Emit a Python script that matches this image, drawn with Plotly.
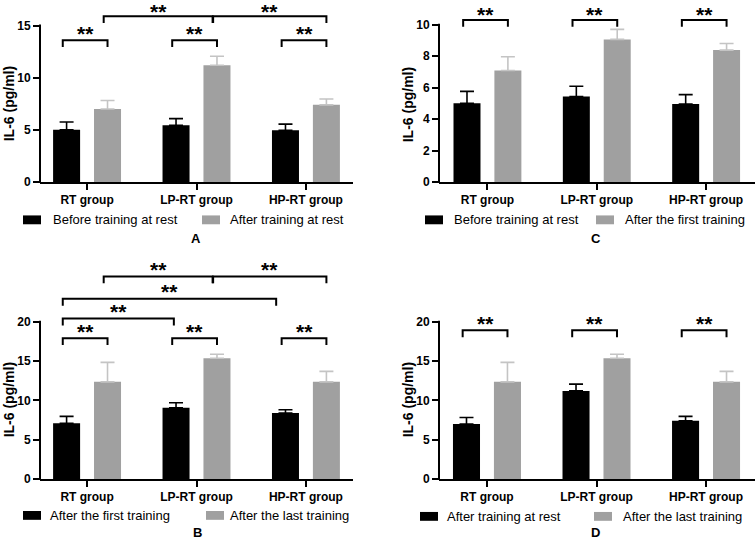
import plotly.graph_objects as go

# ---------------- data ----------------
groups = ["RT group", "LP-RT group", "HP-RT group"]

before_rest = [5.0, 5.43, 4.95]
before_rest_err = [0.76, 0.65, 0.60]
after_rest = [7.0, 11.2, 7.4]
after_rest_err = [0.82, 0.86, 0.56]
after_first = [7.08, 9.06, 8.38]
after_first_err = [0.88, 0.64, 0.42]
after_last = [12.35, 15.35, 12.35]
after_last_err = [2.47, 0.50, 1.33]

ticks_A = [0, 5, 10, 15]
ticks_B = [0, 5, 10, 15, 20]
ticks_C = [0, 2, 4, 6, 8, 10]
ticks_D = [0, 5, 10, 15, 20]

# significance comparisons: (group1, series1, group2, series2, bracket level, star label)
sig_A = [(0, 0, 0, 1, 13.6, "**"), (1, 0, 1, 1, 13.6, "**"), (2, 0, 2, 1, 13.6, "**"),
         (0, 1, 1, 1, 15.9, "**"), (1, 1, 2, 1, 15.9, "**")]
sig_B = [(0, 0, 0, 1, 17.9, "**"), (1, 0, 1, 1, 17.9, "**"), (2, 0, 2, 1, 17.9, "**"),
         (0, 0, 1, 0, 20.4, "**"), (0, 0, 2, 0, 22.9, "**"),
         (0, 1, 1, 1, 25.75, "**"), (1, 1, 2, 1, 25.75, "**")]
sig_C = [(0, 0, 0, 1, 10.3, "**"), (1, 0, 1, 1, 10.3, "**"), (2, 0, 2, 1, 10.3, "**")]
sig_D = [(0, 0, 0, 1, 18.9, "**"), (1, 0, 1, 1, 18.9, "**"), (2, 0, 2, 1, 18.9, "**")]

# ---------------- layout helpers ----------------
W, H = 756, 546
FONT = "Liberation Sans, Arial, sans-serif"
BLACK = "#000000"
GRAY = "#a0a0a0"
ERR_GRAY = "#c4c4c4"
SIDE = 0.187  # half distance between the two bars of a group (x units)


def px(x):
    return x / W


def py(y):
    return 1 - y / H


panels = [
    dict(name="A", ax="", s=[(before_rest, before_rest_err, "Before training at rest"),
                              (after_rest, after_rest_err, "After training at rest")],
         ticks=ticks_A, sig=sig_A, left=40, right=353, zero=183, ppu=10.6, ytop=17.0,
         xr=[-0.43, 2.43], leg=[(23, 52), (202, 229)], legy=221.5, lab=(196, 240.5), ttl=(9, 104)),
    dict(name="C", ax="2", s=[(before_rest, before_rest_err, "Before training at rest"),
                               (after_first, after_first_err, "After the first training")],
         ticks=ticks_C, sig=sig_C, left=439, right=755, zero=183, ppu=16.0, ytop=11.3,
         xr=[-0.443, 2.447], leg=[(425, 453), (596, 624)], legy=221.5, lab=(596, 240.5), ttl=(408, 105)),
    dict(name="B", ax="3", s=[(after_first, after_first_err, "After the first training"),
                               (after_last, after_last_err, "After the last training")],
         ticks=ticks_B, sig=sig_B, left=40, right=353, zero=485, ppu=8.0, ytop=26.5,
         xr=[-0.43, 2.43], leg=[(23, 49), (206, 229)], legy=522, lab=(197, 539), ttl=(9, 405)),
    dict(name="D", ax="4", s=[(after_rest, after_rest_err, "After training at rest"),
                               (after_last, after_last_err, "After the last training")],
         ticks=ticks_D, sig=sig_D, left=439, right=755, zero=485, ppu=8.0, ytop=20.6,
         xr=[-0.438, 2.447], leg=[(420, 446), (594, 622)], legy=523, lab=(595, 539), ttl=(408, 405)),
]

fig = go.Figure()
shapes = []
annotations = []
layout_axes = {}

for p in panels:
    xa = "x" + p["ax"]
    ya = "y" + p["ax"]
    colors = [BLACK, GRAY]
    ecolors = [BLACK, ERR_GRAY]
    for i, (vals, errs, name) in enumerate(p["s"]):
        fig.add_trace(go.Bar(
            x=list(range(len(groups))), y=vals, name=name, xaxis=xa, yaxis=ya,
            marker=dict(color=colors[i], line=dict(width=0)),
            error_y=dict(type="data", symmetric=False, array=errs, arrayminus=[0] * len(errs),
                         color=ecolors[i], thickness=1.6, width=7),
            offsetgroup=str(i), showlegend=False, hoverinfo="skip",
        ))

    y0 = py(p["zero"])
    y1 = py(p["zero"] - p["ytop"] * p["ppu"])
    xd = [px(p["left"]), px(p["right"])]
    layout_axes["xaxis" + p["ax"]] = dict(
        domain=xd, range=p["xr"], anchor=ya, tickmode="array",
        tickvals=list(range(len(groups))), ticktext=groups,
        showline=True, linecolor=BLACK, linewidth=2, ticks="outside", ticklen=6,
        tickwidth=2, tickcolor=BLACK, showgrid=False, zeroline=False,
        tickfont=dict(family=FONT, size=12, color=BLACK, weight="bold"), fixedrange=True,
    )
    layout_axes["yaxis" + p["ax"]] = dict(
        domain=[y0, y1], range=[0, p["ytop"]], anchor=xa, tickmode="array",
        tickvals=p["ticks"], ticktext=[str(t) for t in p["ticks"]],
        showline=False, ticks="outside", ticklen=6, tickwidth=2, tickcolor=BLACK,
        showgrid=False, zeroline=False,
        tickfont=dict(family=FONT, size=12, color=BLACK, weight="bold"), fixedrange=True,
    )
    # y axis line up to the top tick only
    top_px = p["zero"] - p["ticks"][-1] * p["ppu"]
    shapes.append(dict(type="line", xref="paper", yref="paper",
                       x0=xd[0], x1=xd[0], y0=py(p["zero"] + 1), y1=py(top_px - 1),
                       line=dict(color=BLACK, width=2)))

    # significance brackets
    leg_len = 7.0 / p["ppu"]
    for k, (g1, s1, g2, s2, lvl, lab) in enumerate(p["sig"]):
        xl = g1 + (SIDE if s1 else -SIDE) - 0.035
        xr_ = g2 + (SIDE if s2 else -SIDE)
        others = [o for j, o in enumerate(p["sig"]) if j != k]
        if any(o[0] == g2 and o[1] == s2 and abs(o[4] - lvl) < 1e-6 for o in others):
            xr_ -= 0.04
        if g1 != g2 and s1 == 0 and s2 == 0:
            xr_ -= 0.02 if g2 == 1 else 0.085
        path = f"M {xl},{lvl - leg_len} L {xl},{lvl} L {xr_},{lvl} L {xr_},{lvl - leg_len}"
        shapes.append(dict(type="path", xref=xa, yref=ya, path=path,
                           line=dict(color=BLACK, width=2)))
        star_top_px = p["zero"] - lvl * p["ppu"] - 11
        annotations.append(dict(x=(xl + xr_) / 2, y=lvl, xref=xa, yref=ya, text=lab,
                                showarrow=False, xanchor="center", yanchor="middle",
                                yshift=7 if star_top_px > 10 else 5, borderpad=0,
                                font=dict(family=FONT, size=21, color=BLACK, weight="bold")))

    # legend (manual)
    for i, (bx, tx) in enumerate(p["leg"]):
        shapes.append(dict(type="rect", xref="paper", yref="paper",
                           x0=px(bx), x1=px(bx + 18), y0=py(p["legy"] + 4.5), y1=py(p["legy"] - 4.5),
                           fillcolor=colors[i], line=dict(width=0)))
        annotations.append(dict(x=px(tx), y=py(p["legy"]), xref="paper", yref="paper",
                                text=p["s"][i][2], showarrow=False, xanchor="left", yanchor="middle",
                                borderpad=0,
                                font=dict(family=FONT, size=13, color=BLACK)))
    # panel label
    annotations.append(dict(x=px(p["lab"][0]), y=py(p["lab"][1]), xref="paper", yref="paper",
                            text=p["name"], showarrow=False, xanchor="center", yanchor="middle",
                            borderpad=0,
                            font=dict(family=FONT, size=13, color=BLACK, weight="bold")))
    # y title
    annotations.append(dict(x=px(p["ttl"][0]), y=py(p["ttl"][1]), xref="paper", yref="paper",
                            text="IL-6 (pg/ml)", showarrow=False, textangle=-90,
                            xanchor="center", yanchor="middle", borderpad=0,
                            font=dict(family=FONT, size=14, color=BLACK, weight="bold")))

fig.update_layout(
    width=W, height=H, autosize=False,
    margin=dict(l=0, r=0, t=0, b=0),
    paper_bgcolor="white", plot_bgcolor="white",
    barmode="group", bargap=0.252, bargroupgap=0.34,
    showlegend=False, shapes=shapes, annotations=annotations,
    **layout_axes,
)

fig.write_html("out.html", config={"displayModeBar": False},
               post_script="document.body.style.margin='0';document.body.style.padding='0';")
